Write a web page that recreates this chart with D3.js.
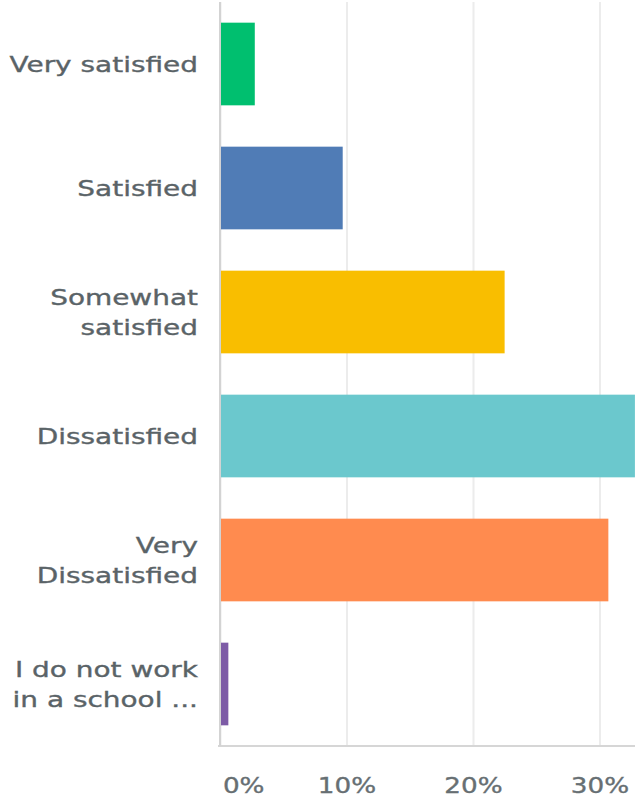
<!DOCTYPE html>
<html>
<head>
<meta charset="utf-8">
<script src="https://cdn.jsdelivr.net/npm/d3@7"></script>
<style>
  html, body { margin: 0; padding: 0; background: #fff; }
  svg { display: block; overflow: hidden; }
  text { font-family: "DejaVu Sans", sans-serif; }
</style>
</head>
<body>
<svg id="chart" width="635" height="800"></svg>
<script>
const categories = [
  "Very satisfied",
  "Satisfied",
  "Somewhat\nsatisfied",
  "Dissatisfied",
  "Very\nDissatisfied",
  "I do not work\nin a school ..."
];
const values = [0.0275, 0.097, 0.225, 0.328, 0.307, 0.0066];
const colors = ["#00bf6f", "#507cb6", "#f9be00", "#6bc8cd", "#ff8b4f", "#7d5ba6"];
const tickValues = [0, 0.1, 0.2, 0.3];
const tickLabels = ["0%", "10%", "20%", "30%"];

const svg = d3.select("#chart");
const plotLeft = 220, plotTop = 2, plotBottom = 746;
const sxTick = 1.22;  // horizontal stretch of the tick glyphs in the reference
const sxLabel = 1.3;  // horizontal stretch of the category glyphs

const x = d3.scaleLinear().domain([0, 0.35]).range([plotLeft, plotLeft + 1265 * 0.35]);
const y = d3.scaleBand().domain(categories).range([plotTop, plotBottom])
  .paddingInner(1/3).paddingOuter(1/6);

// gridlines + bottom axis
const xAxis = d3.axisBottom(x)
  .tickValues(tickValues)
  .tickFormat((d, i) => tickLabels[i])
  .tickSize(-(plotBottom - plotTop))
  .tickPadding(0);
const gx = svg.append("g").attr("transform", `translate(0,${plotBottom})`).call(xAxis);
gx.select(".domain").remove();
gx.selectAll(".tick line").attr("stroke", "#ececec").attr("stroke-width", 2);
gx.selectAll(".tick text")
  .attr("fill", "#676f73")
  .attr("stroke", "#676f73")
  .attr("stroke-width", 0.35)
  .attr("font-size", 21.5)
  .attr("dy", null)
  .attr("y", 47.5)
  .attr("text-anchor", (d, i) => i === 0 ? "start" : "middle")
  .attr("transform", `scale(${sxTick},1)`)
  .attr("x", (d, i) => (i === 0 ? 2 : 0));
// bottom axis line
svg.append("line")
  .attr("x1", x(0) - 2).attr("x2", 635)
  .attr("y1", plotBottom).attr("y2", plotBottom)
  .attr("stroke", "#d6d6d6").attr("stroke-width", 2);

// bars
svg.append("g").selectAll("rect")
  .data(categories)
  .join("rect")
  .attr("x", x(0) + 1)
  .attr("y", d => y(d))
  .attr("height", y.bandwidth())
  .attr("width", (d, i) => x(values[i]) - x(0) - 1)
  .attr("fill", (d, i) => colors[i]);

// left axis
const yAxis = d3.axisLeft(y).tickSize(0).tickFormat(d => d);
const gy = svg.append("g").attr("transform", `translate(${x(0)},0)`).call(yAxis);
gy.select(".domain").attr("stroke", "#d3d3d3").attr("stroke-width", 2)
  .attr("d", `M0,${plotTop}V${plotBottom}`);
gy.selectAll(".tick").each(function(d) {
  const lines = d.split("\n");
  const t = d3.select(this).select("text")
    .attr("fill", "#5a6367")
    .attr("stroke", "#5a6367")
    .attr("stroke-width", 0.35)
    .attr("font-size", 21.5)
    .attr("text-anchor", "end")
    .attr("dy", null)
    .attr("x", null)
    .attr("transform", `scale(${sxLabel},1)`);
  t.text(null);
  const lh = 31;
  const first = 8 - (lines.length - 1) * lh / 2;
  lines.forEach((ln, k) => {
    t.append("tspan")
      .attr("x", -22 / sxLabel)
      .attr("y", first + k * lh)
      .text(ln);
  });
});
</script>
</body>
</html>
